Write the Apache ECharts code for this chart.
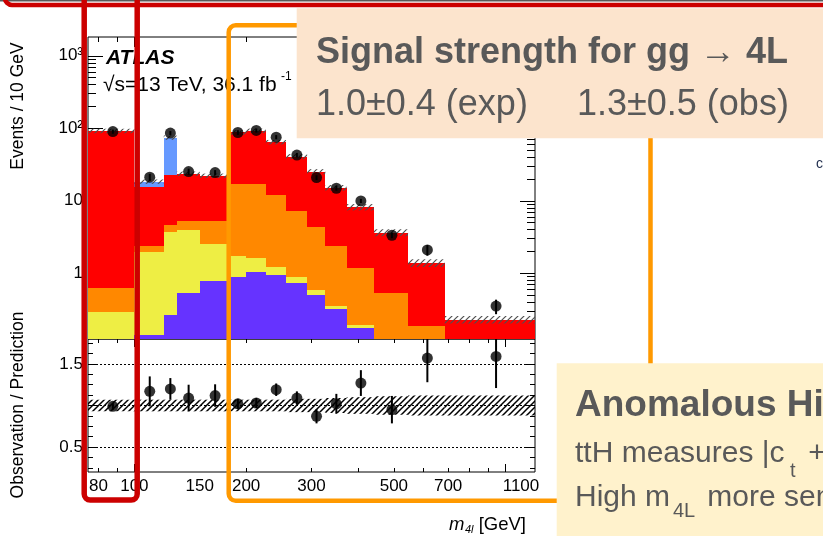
<!DOCTYPE html>
<html>
<head>
<meta charset="utf-8">
<script src="https://cdn.jsdelivr.net/npm/echarts@6/dist/echarts.min.js"></script>
<style>
  html, body { margin: 0; padding: 0; background: #fff; }
  #chart { width: 823px; height: 536px; }
</style>
</head>
<body>
<div id="chart"></div>
<script>
// m4l bin edges in GeV (variable binning)
const binEdges = [75, 100, 120, 130, 150, 180, 200, 226, 256, 292, 327, 373, 442, 546, 685, 1200]

// stacked predictions, events / 10 GeV, bottom to top
const purpleVals = [0.02, 0.14, 0.265, 0.54, 0.78, 0.9, 1.03, 0.95, 0.74, 0.5, 0.32, 0.174, 0.08, 0.03, 0.005]
const yellowVals = [0.275, 1.81, 3.5, 3.43, 1.76, 0.83, 0.62, 0.28, 0.16, 0.088, 0.037, 0.019, 0.02, 0.01, 0.005]
const orangeVals = [0.335, 0.46, 0.89, 1.3, 2.73, 15.4, 15.5, 10.9, 6.4, 3.8, 2.0, 1.0, 0.44, 0.15, 0.05]
const redVals = [91.4, 13.0, 18.1, 18.2, 16.8, 70.6, 75.4, 52.4, 33.5, 20.9, 12.8, 7.0, 3.1, 1.2, 0.17]
const blueVals = [0, 3.0, 51.8, 0.2, 0.1, 0.1, 0, 0, 0, 0, 0, 0, 0, 0, 0]

// relative uncertainty on the prediction (hatched bands)
const predUnc = [0.07, 0.07, 0.07, 0.07, 0.07, 0.07, 0.07, 0.07, 0.08, 0.08, 0.09, 0.1, 0.11, 0.12, 0.12]

// observed data
const obsVals = [90, 21.2, 86, 25.3, 24.5, 87.5, 93.3, 75.5, 42.7, 20.9, 14.9, 9.97, 3.35, 2.1, 0.353]
const obsErr = [6, 2.3, 5.5, 2.5, 2.0, 6.5, 6.0, 5.0, 3.0, 1.6, 1.1, 0.65, 0.3, 0.35, 0.08]

// observation / prediction
const ratioVals = [0.99, 1.17, 1.2, 1.09, 1.12, 1.02, 1.03, 1.19, 1.09, 0.87, 1.02, 1.27, 0.95, 1.57, 1.59]
const ratioErr = [0.04, 0.18, 0.13, 0.16, 0.135, 0.06, 0.06, 0.075, 0.08, 0.085, 0.12, 0.155, 0.165, 0.29, 0.38]

// axis ticks and labels
const xLabels = [80, 100, 150, 200, 300, 500, 700, 1100]
const xMajor = [100, 1000]
const xMinor = [80, 90, 200, 300, 400, 500, 600, 700, 800, 900]
const yMajor = [1, 10, 100, 1000]
const yLabels = ['1', '10', '10²', '10³']
const ratioLabels = [0.5, 1.5]
const ratioMajor = [0.5, 1, 1.5]
const ratioMinor = [0.25, 0.375, 0.625, 0.75, 0.875, 1.125, 1.25, 1.375, 1.625, 1.75]
const ratioLines = [0.5, 1, 1.5]

const X_MIN = Math.log10(75)
const X_MAX = Math.log10(1200)
const Y_MIN = -0.906
const Y_MAX = 3.259
const R_MIN = 0.2
const R_MAX = 1.8

const lg = Math.log10
const FONT = '"Liberation Sans", Arial, sans-serif'

const yMinor = []
for (let d = -1; d <= 3; d++) {
    for (let k = 2; k <= 9; k++) {
        const v = lg(k * Math.pow(10, d))
        if (v > Y_MIN && v < Y_MAX) yMinor.push(v)
    }
}

function clampLog (v) {
    return v > 0 ? Math.max(lg(v), Y_MIN) : Y_MIN
}

function hatch (color, step, width) {
    const c = document.createElement('canvas')
    c.width = c.height = step
    const g = c.getContext('2d')
    g.strokeStyle = color
    g.lineWidth = width
    g.beginPath()
    g.moveTo(-1, step + 1); g.lineTo(step + 1, -1)
    g.moveTo(-1, 1); g.lineTo(1, -1)
    g.moveTo(step - 1, step + 1); g.lineTo(step + 1, step - 1)
    g.stroke()
    return { image: c, repeat: 'repeat' }
}

function rectItem (fill, snap) {
    return function (params, api) {
        const a = api.coord([api.value(0), api.value(3)])
        const b = api.coord([api.value(1), api.value(2)])
        const r = snap ? Math.round : (v) => v
        const x0 = r(a[0]), x1 = r(b[0]), y0 = r(a[1]), y1 = r(b[1])
        return { type: 'rect', shape: { x: x0, y: y0, width: x1 - x0, height: y1 - y0 }, style: { fill: fill } }
    }
}

function errItem (params, api) {
    const a = api.coord([api.value(0), api.value(1)])
    const b = api.coord([api.value(0), api.value(2)])
    return { type: 'line', shape: { x1: a[0], y1: a[1], x2: b[0], y2: b[1] }, style: { stroke: '#000', lineWidth: 2 } }
}

function tickAxis (grid, pos, min, max, values, len, extra) {
    return Object.assign({
        type: 'value', gridIndex: grid, position: pos, min: min, max: max,
        axisLine: { show: false, onZero: false },
        splitLine: { show: false },
        axisLabel: { show: false },
        axisTick: { show: true, inside: true, length: len, customValues: values, lineStyle: { color: '#000', width: 1 } }
    }, extra || {})
}

const layers = [
    { vals: purpleVals, color: '#6633FF' },
    { vals: yellowVals, color: '#EEEE44' },
    { vals: orangeVals, color: '#FF8800' },
    { vals: redVals, color: '#FF0000' },
    { vals: blueVals, color: '#6699FF' }
]

const totals = binEdges.slice(0, -1).map((e, i) => layers.reduce((s, l) => s + l.vals[i], 0))
const centers = binEdges.slice(0, -1).map((e, i) => (e + binEdges[i + 1]) / 2)

const series = []

layers.forEach((layer, k) => {
    const data = binEdges.slice(0, -1).map((lo, i) => {
        let below = 0
        for (let j = 0; j < k; j++) below += layers[j].vals[i]
        const top = below + layer.vals[i]
        return [lg(lo), lg(binEdges[i + 1]), clampLog(below), clampLog(top)]
    })
    series.push({
        type: 'custom', xAxisIndex: 0, yAxisIndex: 0, clip: true, z: 2,
        renderItem: rectItem(layer.color, true),
        encode: { x: [0, 1], y: [2, 3] },
        data: data
    })
})

// uncertainty on the stack
series.push({
    type: 'custom', xAxisIndex: 0, yAxisIndex: 0, clip: true, z: 3,
    renderItem: rectItem(hatch('#505050', 6, 1.2), false),
    encode: { x: [0, 1], y: [2, 3] },
    data: totals.map((t, i) => [lg(binEdges[i]), lg(binEdges[i + 1]), lg(t * (1 - predUnc[i])), lg(t * (1 + predUnc[i]))])
})

series.push({
    type: 'custom', xAxisIndex: 0, yAxisIndex: 0, clip: true, z: 4,
    renderItem: errItem,
    encode: { x: 0, y: [1, 2] },
    data: obsVals.map((v, i) => [lg(centers[i]), lg(v - obsErr[i]), lg(v + obsErr[i])])
})

series.push({
    type: 'scatter', xAxisIndex: 0, yAxisIndex: 0, z: 5,
    symbol: 'circle', symbolSize: 11,
    itemStyle: { color: '#000' },
    data: obsVals.map((v, i) => [lg(centers[i]), lg(v)])
})

// ratio panel
series.push({
    type: 'custom', xAxisIndex: 4, yAxisIndex: 4, clip: true, z: 3,
    renderItem: rectItem(hatch('#000', 6, 1.5), false),
    encode: { x: [0, 1], y: [2, 3] },
    data: predUnc.map((u, i) => [lg(binEdges[i]), lg(binEdges[i + 1]), 1 - u, 1 + u])
})

series.push({
    type: 'custom', xAxisIndex: 4, yAxisIndex: 4, clip: true, z: 4,
    renderItem: errItem,
    encode: { x: 0, y: [1, 2] },
    data: ratioVals.map((v, i) => [lg(centers[i]), v - ratioErr[i], v + ratioErr[i]])
})

series.push({
    type: 'scatter', xAxisIndex: 4, yAxisIndex: 4, z: 5,
    symbol: 'circle', symbolSize: 11,
    itemStyle: { color: '#000' },
    data: ratioVals.map((v, i) => [lg(centers[i]), v]),
    markLine: {
        silent: true, symbol: 'none', animation: false,
        label: { show: false },
        lineStyle: { color: '#000', width: 1, type: [2, 2] },
        data: ratioLines.map(v => ({ yAxis: v }))
    }
})

const xMajL = xMajor.map(lg)
const xMinL = xMinor.map(lg)
const yMajL = yMajor.map(lg)

const labelStyle = { show: true, color: '#000', fontSize: 17, fontFamily: FONT }

const xAxes = [
    tickAxis(0, 'bottom', X_MIN, X_MAX, xMajL, 10),
    tickAxis(0, 'bottom', X_MIN, X_MAX, xMinL, 5),
    tickAxis(0, 'top', X_MIN, X_MAX, xMajL, 10),
    tickAxis(0, 'top', X_MIN, X_MAX, xMinL, 5),
    tickAxis(1, 'bottom', X_MIN, X_MAX, xMajL, 8, {
        axisLabel: Object.assign({}, labelStyle, {
            margin: 6,
            customValues: xLabels.map(lg),
            formatter: (v) => String(Math.round(Math.pow(10, v)))
        })
    }),
    tickAxis(1, 'bottom', X_MIN, X_MAX, xMinL, 4),
    tickAxis(1, 'top', X_MIN, X_MAX, xMajL, 8),
    tickAxis(1, 'top', X_MIN, X_MAX, xMinL, 4)
]

const yAxes = [
    tickAxis(0, 'left', Y_MIN, Y_MAX, yMajL, 15, {
        axisLabel: Object.assign({}, labelStyle, {
            margin: 5,
            customValues: yMajL,
            formatter: (v) => yLabels[Math.round(v)]
        })
    }),
    tickAxis(0, 'left', Y_MIN, Y_MAX, yMinor, 8),
    tickAxis(0, 'right', Y_MIN, Y_MAX, yMajL, 15),
    tickAxis(0, 'right', Y_MIN, Y_MAX, yMinor, 8),
    tickAxis(1, 'left', R_MIN, R_MAX, ratioMajor, 10, {
        axisLabel: Object.assign({}, labelStyle, {
            margin: 5,
            customValues: ratioLabels,
            formatter: (v) => v.toFixed(1)
        })
    }),
    tickAxis(1, 'left', R_MIN, R_MAX, ratioMinor, 5),
    tickAxis(1, 'right', R_MIN, R_MAX, ratioMajor, 10),
    tickAxis(1, 'right', R_MIN, R_MAX, ratioMinor, 5)
]

function txt (x, y, text, font, fill, align, rotation) {
    const el = {
        type: 'text', x: x, y: y, z: 100,
        style: { text: text, font: font, fill: fill || '#000', align: align || 'left', verticalAlign: 'middle' }
    }
    if (rotation) el.rotation = rotation
    return el
}

const GREY = '#595959'

const graphics = [
    // ATLAS label and axis titles
    txt(106, 58, 'ATLAS', 'italic bold 21px ' + FONT),
    txt(103, 85.5, '√s=13 TeV, 36.1 fb', '21px ' + FONT),
    txt(281, 77, '-1', '12px ' + FONT),
    txt(18, 106, 'Events / 10 GeV', '17.5px ' + FONT, '#000', 'center', Math.PI / 2),
    txt(18, 405, 'Observation / Prediction', '17.5px ' + FONT, '#000', 'center', Math.PI / 2),
    txt(449, 525, 'm', 'italic 18.5px ' + FONT),
    txt(465, 530, '4l', 'italic 11px ' + FONT),
    txt(526, 525, '[GeV]', '18.5px ' + FONT, '#000', 'right'),
    txt(816, 164, 'c', '14px ' + FONT, '#1f2d4d'),

    // slide annotations
    { type: 'rect', z: 100, shape: { x: 0, y: 0, width: 823, height: 1.5 }, style: { fill: '#5a5a5a' } },
    { type: 'rect', z: 100, shape: { x: 5, y: -60, width: 900, height: 65, r: 7 }, style: { fill: 'none', stroke: '#CC0000', lineWidth: 4.7 } },
    { type: 'rect', z: 100, shape: { x: 84.2, y: -20, width: 53, height: 520, r: 6 }, style: { fill: 'none', stroke: '#CC0000', lineWidth: 5.5 } },
    { type: 'rect', z: 100, shape: { x: 228.7, y: 25.3, width: 421.8, height: 475.5, r: 7 }, style: { fill: 'none', stroke: '#FF9900', lineWidth: 4.5 } },

    { type: 'rect', z: 100, shape: { x: 296.7, y: 8.3, width: 540, height: 130 }, style: { fill: '#FCE4CD' } },
    txt(316, 53, 'Signal strength for gg → 4L', 'bold 36px ' + FONT, GREY),
    txt(316, 105, '1.0±0.4 (exp)', '36px ' + FONT, GREY),
    txt(577, 105, '1.3±0.5 (obs)', '36px ' + FONT, GREY),

    { type: 'rect', z: 100, shape: { x: 556.7, y: 363.3, width: 280, height: 180 }, style: { fill: '#FFF2CC' } },
    txt(575, 406, 'Anomalous Higgs couplings', 'bold 37px ' + FONT, GREY),
    txt(575, 454, 'ttH measures |c', '30px ' + FONT, GREY),
    txt(790, 471.5, 't', '20px ' + FONT, GREY),
    txt(800, 454, ' + c', '30px ' + FONT, GREY),
    txt(575, 497.5, 'High m', '30px ' + FONT, GREY),
    txt(673, 511.5, '4L', '20px ' + FONT, GREY),
    txt(699, 497.5, ' more sensitive', '30px ' + FONT, GREY)
]

const chart = echarts.init(document.getElementById('chart'), null, { renderer: 'canvas' })
chart.setOption({
    animation: false,
    backgroundColor: '#fff',
    grid: [
        { left: 88, top: 37, width: 447, height: 302, show: true, borderColor: '#000', borderWidth: 1, backgroundColor: 'transparent' },
        { left: 88, top: 339, width: 447, height: 133, show: true, borderColor: '#000', borderWidth: 1, backgroundColor: 'transparent' }
    ],
    xAxis: xAxes,
    yAxis: yAxes,
    series: series,
    graphic: graphics
})
</script>
</body>
</html>
